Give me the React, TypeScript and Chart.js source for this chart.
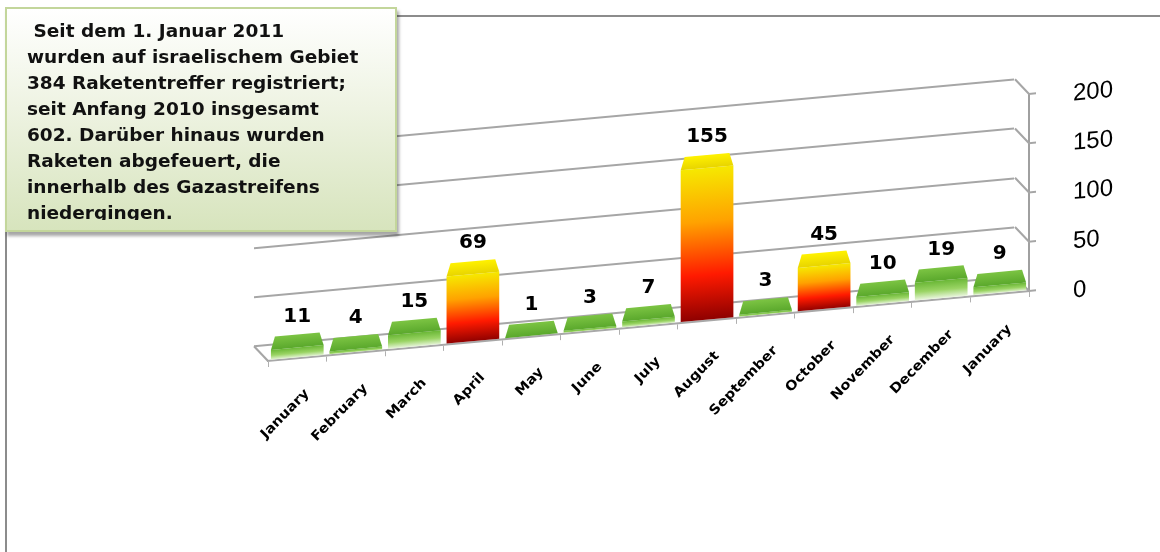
import React, { useEffect, useRef } from 'react';
import { Chart, registerables } from 'chart.js';

Chart.register(...registerables);

// ---- data ----
const categories = [
  'January', 'February', 'March', 'April', 'May', 'June', 'July',
  'August', 'September', 'October', 'November', 'December', 'January',
];
const rocketHits = [11, 4, 15, 69, 1, 3, 7, 155, 3, 45, 10, 19, 9];
const yTicks = [0, 50, 100, 150, 200];
const highThreshold = 40;
const noteLines = [
  ' Seit dem 1. Januar 2011',
  'wurden auf israelischem Gebiet',
  '384 Raketentreffer registriert;',
  'seit Anfang 2010 insgesamt',
  '602. Darüber hinaus wurden',
  'Raketen abgefeuert, die',
  'innerhalb des Gazastreifens',
  'niedergingen.',
];

// ---- styling ----
const SKEW = -0.092;
const CAP_DEPTH = 13;
const BACK_DX = 14;
const BACK_DY = 16;
const GRID_COLOR = '#a6a6a6';

export default function App() {
  const canvasRef = useRef<HTMLCanvasElement>(null);

  useEffect(() => {
    const canvas = canvasRef.current;
    if (!canvas) return;

    const skewPlugin = {
      id: 'skew3d',
      beforeDraw(chart: any) {
        const { ctx, chartArea } = chart;
        const ys = chart.scales.y;
        if (ys && !ys.__backPatched) {
          const orig = ys.drawGrid;
          ys.drawGrid = function (area: any) {
            const c = this.ctx;
            c.save();
            c.translate(-BACK_DX, -BACK_DY);
            orig.call(this, area);
            c.restore();
          };
          ys.__backPatched = true;
        }
        ctx.save();
        ctx.transform(1, SKEW, 0, 1, 0, -SKEW * chartArea.right);
      },
      beforeDatasetsDraw(chart: any) {
        const ctx = chart.ctx;
        const { left, right } = chart.chartArea;
        const ys = chart.scales.y;
        ctx.save();
        ctx.strokeStyle = GRID_COLOR;
        ctx.lineWidth = 2;
        ys.ticks.forEach((t: any) => {
          const py = ys.getPixelForValue(t.value);
          ctx.beginPath();
          ctx.moveTo(right - BACK_DX, py - BACK_DY);
          ctx.lineTo(right, py);
          ctx.lineTo(right + 7, py);
          ctx.stroke();
          if (t.value === yTicks[0]) {
            ctx.beginPath();
            ctx.moveTo(left - BACK_DX, py - BACK_DY);
            ctx.lineTo(left, py);
            ctx.stroke();
          }
        });
        ctx.restore();
      },
      afterDatasetsDraw(chart: any) {
        const ctx = chart.ctx;
        const meta = chart.getDatasetMeta(0);
        meta.data.forEach((el: any, i: number) => {
          const { x, y, width } = el.getProps(['x', 'y', 'width'], true);
          const hw = width / 2;
          const high = rocketHits[i] > highThreshold;
          ctx.beginPath();
          ctx.moveTo(x - hw, y);
          ctx.lineTo(x + hw, y);
          ctx.lineTo(x + hw - 4, y - CAP_DEPTH);
          ctx.lineTo(x - hw + 4, y - CAP_DEPTH);
          ctx.closePath();
          const g = ctx.createLinearGradient(0, y - CAP_DEPTH, 0, y);
          if (high) {
            g.addColorStop(0, '#fff200');
            g.addColorStop(1, '#e8d400');
          } else {
            g.addColorStop(0, '#7cc443');
            g.addColorStop(1, '#5aa82c');
          }
          ctx.fillStyle = g;
          ctx.fill();
        });
      },
      afterDraw(chart: any) {
        const ctx = chart.ctx;
        ctx.restore();
        const x0 = chart.chartArea.right;
        const meta = chart.getDatasetMeta(0);
        ctx.save();
        ctx.font = 'bold 20px "DejaVu Sans"';
        ctx.fillStyle = '#000';
        ctx.textAlign = 'center';
        ctx.textBaseline = 'middle';
        meta.data.forEach((el: any, i: number) => {
          const { x, y } = el.getProps(['x', 'y'], true);
          const ly = y - CAP_DEPTH - 18 + SKEW * (x - x0);
          ctx.fillText(String(rocketHits[i]), x, ly);
        });
        ctx.restore();
      },
    };

    const barFill = (c: any) => {
      const chart = c.chart;
      const high = (c.raw as number) > highThreshold;
      if (!chart.chartArea || !chart.scales.y) return high ? '#ff8000' : '#7cc043';
      const ys = chart.scales.y;
      const top = ys.getPixelForValue(c.raw);
      const bottom = ys.getPixelForValue(0);
      const g = chart.ctx.createLinearGradient(0, top, 0, Math.max(bottom, top + 1));
      if (high) {
        g.addColorStop(0, '#f6e800');
        g.addColorStop(0.35, '#ffa200');
        g.addColorStop(0.7, '#ff1a00');
        g.addColorStop(1, '#8c0000');
      } else {
        g.addColorStop(0, '#6ab736');
        g.addColorStop(0.5, '#9ad464');
        g.addColorStop(1, '#f4faee');
      }
      return g;
    };

    const chart = new Chart(canvas, {
      type: 'bar',
      data: {
        labels: categories,
        datasets: [
          {
            data: rocketHits,
            backgroundColor: barFill,
            borderWidth: 0,
            barPercentage: 0.9,
            categoryPercentage: 1,
          },
        ],
      },
      options: {
        responsive: false,
        animation: false,
        events: [],
        layout: { padding: { left: 268, top: 94, right: 0, bottom: 0 } },
        plugins: {
          legend: { display: false },
          tooltip: { enabled: false },
          title: { display: false },
        },
        scales: {
          x: {
            type: 'category',
            offset: true,
            grid: {
              display: true,
              drawOnChartArea: false,
              offset: true,
              tickLength: 6,
              color: '#b0b0b0',
              lineWidth: 1,
            },
            border: { display: true, color: '#a8a8a8', width: 2 },
            ticks: {
              autoSkip: false,
              minRotation: 43,
              maxRotation: 43,
              padding: 22,
              labelOffset: 10,
              color: '#000',
              font: { family: 'DejaVu Sans', weight: 'bold', size: 14 },
            },
            afterFit: (s: any) => {
              s.height = 261;
            },
          },
          y: {
            position: 'right',
            min: yTicks[0],
            max: yTicks[yTicks.length - 1],
            afterBuildTicks: (s: any) => {
              s.ticks = yTicks.map((v) => ({ value: v }));
            },
            grid: { color: GRID_COLOR, lineWidth: 2, drawTicks: false },
            border: { display: true, color: '#a0a0a0', width: 2 },
            ticks: {
              padding: 44,
              labelOffset: 4,
              color: '#000',
              font: { family: 'Liberation Sans', size: 24 },
            },
            afterFit: (s: any) => {
              s.width = 131;
            },
          },
        },
      },
      plugins: [skewPlugin],
    } as any);

    return () => chart.destroy();
  }, []);

  return (
    <div
      style={{
        position: 'fixed',
        left: 0,
        top: 0,
        width: 1160,
        height: 552,
        background: '#fff',
        overflow: 'hidden',
      }}
    >
      <div
        style={{
          position: 'absolute',
          left: 5,
          top: 15,
          width: 1200,
          height: 600,
          borderTop: '2px solid #8c8c8c',
          borderLeft: '2px solid #8c8c8c',
        }}
      />
      <canvas
        ref={canvasRef}
        width={1160}
        height={552}
        style={{ position: 'absolute', left: 0, top: 0, width: 1160, height: 552 }}
      />
      <div
        style={{
          position: 'absolute',
          left: 5,
          top: 7,
          width: 392,
          height: 225,
          boxSizing: 'border-box',
          border: '2px solid #c3d69b',
          background: 'linear-gradient(to bottom, #ffffff 0%, #eef3e2 45%, #d7e4bd 100%)',
          boxShadow: '2px 4px 3px rgba(0,0,0,0.35)',
          padding: '9px 0 0 20px',
        }}
      >
        <div
          style={{
            height: 202,
            overflow: 'hidden',
            fontFamily: '"DejaVu Sans", Verdana, sans-serif',
            fontWeight: 'bold',
            fontSize: 18.5,
            lineHeight: '26px',
            color: '#111',
            whiteSpace: 'pre',
          }}
        >
          {noteLines.map((line, i) => (
            <div key={i}>{line}</div>
          ))}
        </div>
      </div>
    </div>
  );
}
